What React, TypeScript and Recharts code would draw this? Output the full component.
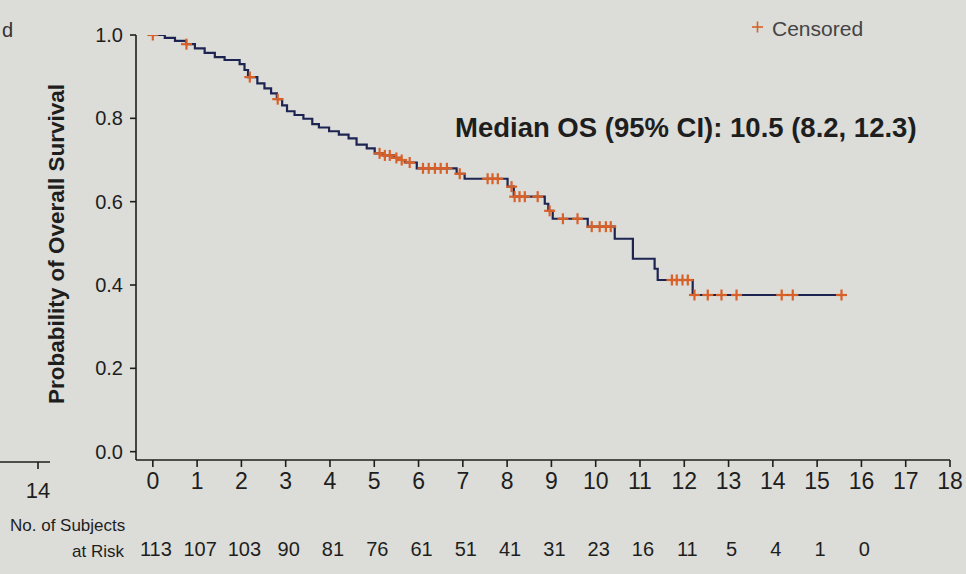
import React from 'react';
import { ComposedChart, Line, Scatter, XAxis, YAxis } from 'recharts';

// Kaplan-Meier step times (months) and survival probabilities
const kmTimes = [
  0, 0.27, 0.5, 0.75, 0.95, 1.17, 1.4, 1.62, 1.96, 2.07, 2.15, 2.36, 2.52, 2.67, 2.8, 2.92,
  3.03, 3.2, 3.4, 3.6, 3.75, 3.98, 4.2, 4.42, 4.6, 4.83, 5.01, 5.2, 5.45, 5.6, 5.69, 5.96,
  6.86, 7.04, 8.01, 8.15, 8.85, 8.93, 9.03, 9.82, 10.43, 10.84, 11.33, 11.4, 12.19, 15.55,
];
const kmSurv = [
  1.0, 0.993, 0.986, 0.978, 0.968, 0.957, 0.947, 0.94, 0.93, 0.916, 0.899, 0.884, 0.872, 0.86, 0.846, 0.831,
  0.817, 0.808, 0.799, 0.786, 0.778, 0.769, 0.761, 0.752, 0.737, 0.728, 0.716, 0.711, 0.705, 0.7, 0.694, 0.68,
  0.667, 0.655, 0.636, 0.612, 0.595, 0.578, 0.559, 0.54, 0.511, 0.463, 0.439, 0.412, 0.376, 0.376,
];
// Censoring times (months)
const censorTimes = [
  0, 0.76, 2.19, 2.82, 5.12, 5.24, 5.35, 5.5, 5.62, 5.8, 6.1, 6.23, 6.37, 6.5, 6.64, 6.93,
  7.56, 7.67, 7.79, 8.1, 8.17, 8.28, 8.4, 8.69, 8.96, 9.26, 9.59, 9.91, 10.09, 10.23, 10.34,
  11.72, 11.83, 11.96, 12.08, 12.23, 12.53, 12.84, 13.18, 14.2, 14.45, 15.55,
];
const xTicks = [0, 1, 2, 3, 4, 5, 6, 7, 8, 9, 10, 11, 12, 13, 14, 15, 16, 17, 18];
const yTicks = [0, 0.2, 0.4, 0.6, 0.8, 1.0];
const atRisk = [113, 107, 103, 90, 81, 76, 61, 51, 41, 31, 23, 16, 11, 5, 4, 1, 0];

const W = 966;
const H = 574;
const BG = '#dcdcd8';
const INK = '#1e1e1e';
const NAVY = '#1d2452';
const ORANGE = '#d8612a';
const FONT = '"Liberation Sans", Arial, Helvetica, sans-serif';

const kmData = kmTimes.map((t, i) => ({ t, s: kmSurv[i] }));
const survAt = (t: number) => {
  let s = kmSurv[0];
  for (let i = 0; i < kmTimes.length; i++) if (kmTimes[i] <= t) s = kmSurv[i];
  return s;
};
const censorData = censorTimes.map((t) => ({ t, s: survAt(t) }));

const PlusShape = (props: any) => {
  const { cx, cy } = props;
  if (cx == null || cy == null) return null;
  const r = 5.5;
  return (
    <g>
      <line x1={cx - r} y1={cy} x2={cx + r} y2={cy} stroke={ORANGE} strokeWidth={2.2} />
      <line x1={cx} y1={cy - r} x2={cx} y2={cy + r} stroke={ORANGE} strokeWidth={2.2} />
    </g>
  );
};

const XTick = (props: any) => {
  const { x, y, payload } = props;
  const v = payload.value as number;
  const n = atRisk[v];
  return (
    <g>
      <text x={x} y={y + 22} textAnchor="middle" fontSize={23} fill={INK} fontFamily={FONT}>
        {v}
      </text>
      {n !== undefined && (
        <text x={x + 3} y={y + 89} textAnchor="middle" fontSize={20} fill={INK} fontFamily={FONT}>
          {n}
        </text>
      )}
    </g>
  );
};

export default function App() {
  return (
    <div
      style={{
        position: 'absolute',
        left: 0,
        top: 0,
        width: W,
        height: H,
        background: BG,
        overflow: 'hidden',
        fontFamily: FONT,
      }}
    >
      <ComposedChart width={W} height={H} margin={{ top: 35, right: 16, bottom: 84, left: 66 }}>
        <XAxis
          type="number"
          dataKey="t"
          domain={[-0.38, 18]}
          ticks={xTicks}
          interval={0}
          allowDataOverflow
          tickSize={7}
          tickMargin={0}
          height={30}
          stroke={INK}
          strokeWidth={1.6}
          tick={<XTick />}
        />
        <YAxis
          type="number"
          domain={[-0.02, 1]}
          ticks={yTicks}
          allowDataOverflow
          width={70}
          tickSize={6}
          tickMargin={7}
          stroke={INK}
          strokeWidth={1.6}
          tickFormatter={(v: number) => v.toFixed(1)}
          tick={{ fill: INK, fontSize: 20, fontFamily: FONT }}
        />
        <Line
          data={kmData}
          dataKey="s"
          type="stepAfter"
          stroke={NAVY}
          strokeWidth={2.2}
          dot={false}
          activeDot={false}
          isAnimationActive={false}
        />
        <Scatter data={censorData} dataKey="s" shape={<PlusShape />} isAnimationActive={false} />
      </ComposedChart>
      <svg
        width={W}
        height={H}
        style={{ position: 'absolute', left: 0, top: 0, pointerEvents: 'none' }}
        fontFamily={FONT}
      >
        <text x={2} y={37} fontSize={20} fill="#333">d</text>
        <text
          transform="translate(64,244) rotate(-90)"
          textAnchor="middle"
          fontSize={22.5}
          fontWeight="bold"
          fill={INK}
        >
          Probability of Overall Survival
        </text>
        <line x1={752} y1={27} x2={763} y2={27} stroke={ORANGE} strokeWidth={1.6} />
        <line x1={757.5} y1={21.5} x2={757.5} y2={32.5} stroke={ORANGE} strokeWidth={1.6} />
        <text x={772} y={36} fontSize={21} fill="#444">Censored</text>
        <text x={455} y={137} fontSize={27.5} fontWeight="bold" fill={INK}>
          Median OS (95% CI): 10.5 (8.2, 12.3)
        </text>
        <line x1={0} y1={462} x2={50} y2={462} stroke={INK} strokeWidth={1.6} />
        <line x1={38} y1={462} x2={38} y2={469} stroke={INK} strokeWidth={1.6} />
        <text x={38} y={498} textAnchor="middle" fontSize={22} fill={INK}>14</text>
        <text x={10} y={531} fontSize={17} fill={INK}>No. of Subjects</text>
        <text x={72} y={557} fontSize={17} fill={INK}>at Risk</text>
      </svg>
    </div>
  );
}
